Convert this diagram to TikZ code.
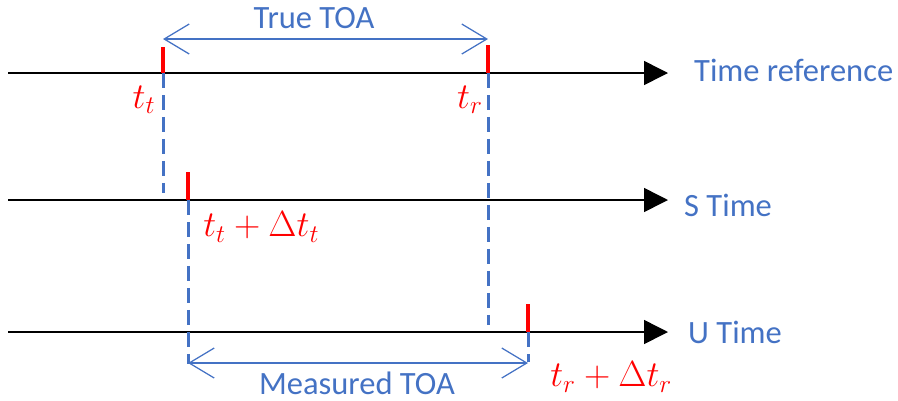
\documentclass[tikz,border=0pt]{standalone}
\usepackage{fontspec}
\setmainfont{Carlito}
\usetikzlibrary{arrows.meta,positioning}
\definecolor{toablue}{HTML}{4472C4}

\begin{document}
\begin{tikzpicture}[x=0.02cm,y=-0.02cm,font=\fontsize{18.5}{22}\selectfont,
  axis/.style={line width=0.03cm,-{Triangle[length=0.48cm,width=0.48cm]}},
  tickmark/.style={draw=red,line width=0.09cm},
  guide/.style={draw=toablue,line width=0.06cm,dash pattern=on 0.3cm off 0.14cm},
  span/.style={draw=toablue,line width=0.025cm,{Straight Barb[length=0.5cm,width=0.6cm]}-{Straight Barb[length=0.5cm,width=0.6cm]}},
  axislbl/.style={text=toablue,anchor=west},
  timelbl/.style={text=red,font=\fontsize{20}{24}\selectfont,inner sep=0pt}]
\useasboundingbox (0,0) rectangle (898,400);
% time axes
\coordinate (refA) at (8,73);   \coordinate (refB) at (668,73);
\coordinate (sA) at (8,200);    \coordinate (sB) at (668,200);
\coordinate (uA) at (8,332);    \coordinate (uB) at (668,332);
\draw[axis] (refA)--(refB);
\draw[axis] (sA)--(sB);
\draw[axis] (uA)--(uB);
\node[axislbl] (refname) at (688,70) {Time reference};
\node[axislbl] (sname) at (678,205) {S Time};
\node[axislbl] (uname) at (682,332) {U Time};
% event ticks
\coordinate (tt) at (163,73);   \coordinate (ttTop) at (163,47);
\coordinate (tr) at (488,73);   \coordinate (trTop) at (488,45);
\coordinate (ts) at (188,200);  \coordinate (tsTop) at (188,172);
\coordinate (tu) at (528,332);  \coordinate (tuTop) at (528,304);
% dashed projections
\coordinate (ttEnd) at (163,193);
\coordinate (trEnd) at (488,325);
\coordinate (tsEnd) at (188,364);
\coordinate (tuEnd) at (528,362);
\draw[guide] (tt)--(ttEnd);
\draw[guide] (tr)--(trEnd);
\draw[guide] (ts)--(tsEnd);
\draw[guide] (tu)--(tuEnd);
\draw[tickmark] (ttTop)--(tt);
\draw[tickmark] (trTop)--(tr);
\draw[tickmark] (tsTop)--(ts);
\draw[tickmark] (tuTop)--(tu);
% time labels
\node[timelbl] (ttlbl) at (144,100) {$t_t$};
\node[timelbl] (trlbl) at (470,100) {$t_r$};
\node[timelbl,anchor=west] (tslbl) at (203,227) {$t_t+\Delta t_t$};
\node[timelbl,anchor=west] (tulbl) at (550,377) {$t_r+\Delta t_r$};
% TOA spans
\coordinate (trueL) at (163,39);  \coordinate (trueR) at (488,39);
\coordinate (measL) at (188,363); \coordinate (measR) at (528,363);
\draw[span] (trueL)--(trueR);
\draw[span] (measL)--(measR);
\node[text=toablue] (truetoa) at (314,18) {True TOA};
\node[text=toablue] (meastoa) at (357,383) {Measured TOA};
\end{tikzpicture}
\end{document}
